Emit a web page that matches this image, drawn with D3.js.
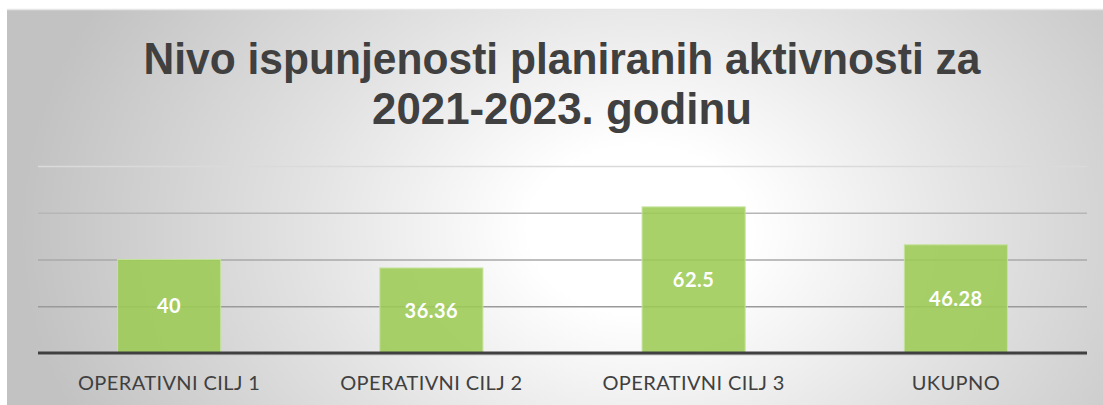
<!DOCTYPE html>
<html>
<head>
<meta charset="utf-8">
<script src="https://cdn.jsdelivr.net/npm/d3@7"></script>
<style>
  html, body { margin: 0; padding: 0; background: #ffffff; }
  svg { display: block; }
</style>
</head>
<body>
<svg id="chart" width="1103" height="405"></svg>
<script>
// ---- data ----
const titleLines = ["Nivo ispunjenosti planiranih aktivnosti za", "2021-2023. godinu"];
const categories = ["OPERATIVNI CILJ 1", "OPERATIVNI CILJ 2", "OPERATIVNI CILJ 3", "UKUPNO"];
const values = [40, 36.36, 62.5, 46.28];
const valueLabels = ["40", "36.36", "62.5", "46.28"];
const yTicks = [20, 40, 60, 80];

// ---- layout ----
const W = 1103, H = 405;
const plot = { left: 38, right: 1087, top: 166, bottom: 353 };

const svg = d3.select("#chart");
const defs = svg.append("defs");
const grad = defs.append("radialGradient")
  .attr("id", "bg")
  .attr("gradientUnits", "userSpaceOnUse")
  .attr("cx", 640).attr("cy", 230).attr("r", 620)
  .attr("gradientTransform", "translate(640,230) scale(1,0.75) translate(-640,-230)");
grad.append("stop").attr("offset", "0%").attr("stop-color", "#ffffff");
grad.append("stop").attr("offset", "18%").attr("stop-color", "#ffffff");
grad.append("stop").attr("offset", "55%").attr("stop-color", "#e2e2e2");
grad.append("stop").attr("offset", "100%").attr("stop-color", "#c2c2c2");

svg.append("rect").attr("x", 7).attr("y", 9).attr("width", W - 7).attr("height", H - 9)
  .attr("fill", "url(#bg)");
svg.append("line").attr("x1", 7).attr("x2", W).attr("y1", 9.5).attr("y2", 9.5)
  .attr("stroke", "#e6e6e6").attr("stroke-width", 1.5);

// ---- title ----
const titleBaselines = [74, 124];
const titleWidths = [837, 380];
svg.append("g").selectAll("text").data(titleLines).join("text")
  .attr("x", 562)
  .attr("y", (d, i) => titleBaselines[i])
  .attr("text-anchor", "middle")
  .attr("textLength", (d, i) => titleWidths[i])
  .attr("lengthAdjust", "spacingAndGlyphs")
  .style("font-family", "'Liberation Sans Narrow', 'Liberation Sans', sans-serif")
  .style("font-weight", "bold")
  .style("font-size", "45px")
  .style("fill", "#404040")
  .text(d => d);

// ---- scales ----
const x = d3.scaleBand().domain(categories).range([plot.left, plot.right])
  .paddingInner(0.607).paddingOuter(0.3035);
const y = d3.scaleLinear().domain([0, 80]).range([plot.bottom, plot.top]);

// gridlines
const gridColors = { 20: "#9a9a9a", 40: "#a8a8a8", 60: "#b6b6b6", 80: "#dadada" };
const yAxis = d3.axisLeft(y).tickValues(yTicks).tickSize(-(plot.right - plot.left)).tickFormat("");
const gAxis = svg.append("g").attr("transform", `translate(${plot.left},0)`).call(yAxis);
gAxis.select(".domain").remove();
gAxis.selectAll(".tick line")
  .attr("stroke", d => gridColors[d])
  .attr("stroke-width", 1.5);

// bars
svg.append("g").selectAll("rect").data(values).join("rect")
  .attr("x", (d, i) => x(categories[i]))
  .attr("width", x.bandwidth())
  .attr("y", d => y(d))
  .attr("height", d => y(0) - y(d))
  .attr("fill", "#9ccb55")
  .attr("fill-opacity", 0.88)
  .attr("stroke", "#c4e39a")
  .attr("stroke-width", 1);

// value labels
svg.append("g").selectAll("text").data(values).join("text")
  .attr("x", (d, i) => x(categories[i]) + x.bandwidth() / 2)
  .attr("y", d => (y(d) + y(0)) / 2)
  .attr("dy", "0.36em")
  .attr("text-anchor", "middle")
  .style("font-family", "'Lato', 'DejaVu Sans', sans-serif")
  .style("font-weight", "bold")
  .style("font-size", "20px")
  .style("letter-spacing", "0.5px")
  .style("fill", "#ffffff")
  .text((d, i) => valueLabels[i]);

// baseline
svg.append("line")
  .attr("x1", plot.left).attr("x2", plot.right)
  .attr("y1", y(0) + 1.5).attr("y2", y(0) + 1.5)
  .attr("stroke", "#c8c8c8").attr("stroke-width", 2);
svg.append("line")
  .attr("x1", plot.left).attr("x2", plot.right)
  .attr("y1", y(0)).attr("y2", y(0))
  .attr("stroke", "#404040").attr("stroke-width", 3);

// category labels
const xAxis = d3.axisBottom(x).tickSize(0).tickPadding(0);
const gx = svg.append("g").attr("transform", `translate(0,${y(0)})`).call(xAxis);
gx.select(".domain").remove();
gx.selectAll(".tick text")
  .attr("y", 37)
  .attr("dy", 0)
  .style("font-family", "'Lato', 'DejaVu Sans', sans-serif")
  .style("font-size", "20px")
  .style("letter-spacing", "0.4px")
  .style("fill", "#404040");
</script>
</body>
</html>
